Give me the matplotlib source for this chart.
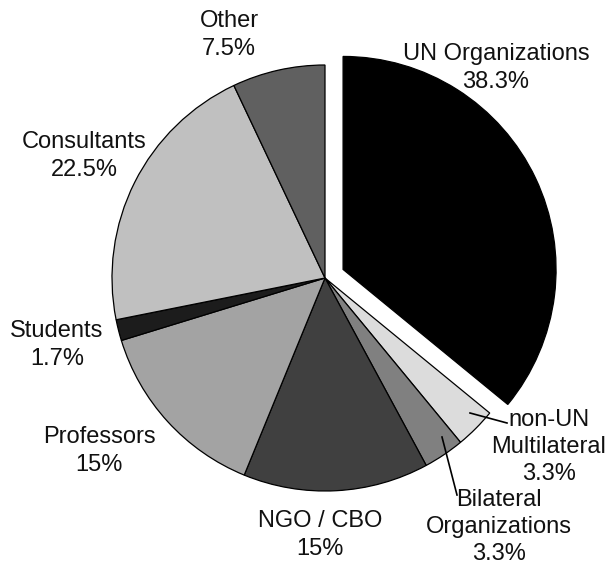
import matplotlib.pyplot as plt

plt.rcParams['font.family'] = ['Liberation Sans', 'DejaVu Sans']

categories = ["UN Organizations", "non-UN\nMultilateral", "Bilateral\nOrganizations",
              "NGO / CBO", "Professors", "Students", "Consultants", "Other"]
shares = [38.3, 3.3, 3.3, 15, 15, 1.7, 22.5, 7.5]
share_text = ["38.3%", "3.3%", "3.3%", "15%", "15%", "1.7%", "22.5%", "7.5%"]
colors = ["#000000", "#dcdcdc", "#808080", "#404040", "#a3a3a3", "#1c1c1c", "#c0c0c0", "#606060"]

# layout (image pixels, y measured from the top)
W, H = 608, 569
center = (325, 278)
radius = 213
label_pos = [(496, 68), (549, 447), (499, 527), (320, 535),
             (99, 451), (57, 345), (84, 156), (229, 35)]
leaders = {1: ((470, 413), (507, 423)), 2: ((442, 437), (457, 495))}

fig = plt.figure(figsize=(W / 100, H / 100), dpi=100)
ax = fig.add_axes([0, 0, 1, 1])

# pie's explode offset is in data units here, not a fraction of the radius
explode = [20] + [0] * (len(shares) - 1)
ax.pie(shares, colors=colors, explode=explode, startangle=90, counterclock=False,
       center=(center[0], H - center[1]), radius=radius,
       wedgeprops=dict(edgecolor='black', linewidth=0.9))

for i, (x, y) in enumerate(label_pos):
    ax.text(x, H - y, categories[i] + "\n" + share_text[i], ha='center', va='center',
            fontsize=17, color='#111111', linespacing=1.3)

for i, (p0, p1) in leaders.items():
    ax.plot([p0[0], p1[0]], [H - p0[1], H - p1[1]], color='black', linewidth=1.2)

ax.set_xlim(0, W)
ax.set_ylim(0, H)
ax.set_aspect('equal')
ax.axis('off')

fig.savefig("out.png", dpi=100)
